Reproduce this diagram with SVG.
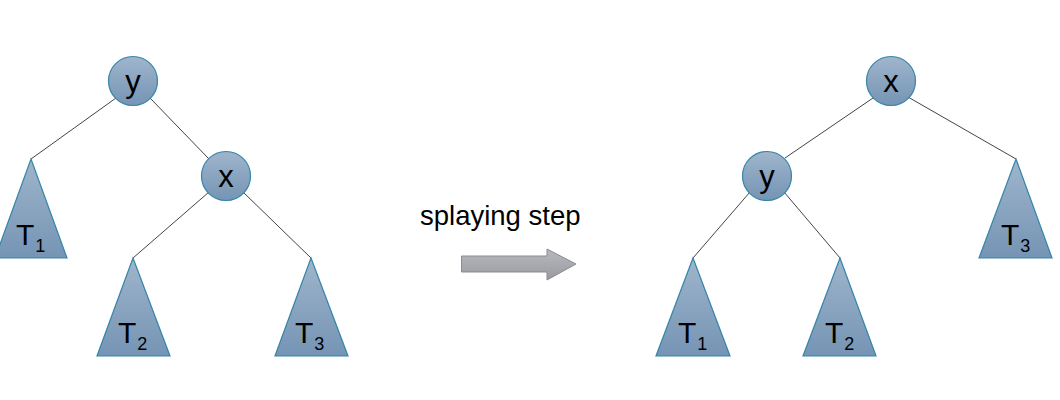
<svg xmlns="http://www.w3.org/2000/svg" width="1060" height="400" viewBox="0 0 1060 400">
<defs>
<linearGradient id="g" x1="0" y1="0" x2="0" y2="1">
<stop offset="0" stop-color="#9fb5cc"/>
<stop offset="1" stop-color="#7594b4"/>
</linearGradient>
<linearGradient id="ga" x1="0" y1="0" x2="0" y2="1">
<stop offset="0" stop-color="#b8b9be"/>
<stop offset="1" stop-color="#9a9ba1"/>
</linearGradient>
</defs>
<style>
.n{fill:url(#g);stroke:#3585a8;stroke-width:1.2}
.e{stroke:#444;stroke-width:1;fill:none}
.t{font-family:"Liberation Sans",Arial,sans-serif;fill:#000}
.c{font-size:31px;text-anchor:middle}
.tl{font-size:30px}
.s{font-size:18px}
</style>
<g id="connectors">
<line class="e" x1="116" y1="98" x2="31" y2="159"/>
<line class="e" x1="150" y1="98" x2="209" y2="159"/>
<line class="e" x1="209" y1="192" x2="133" y2="258"/>
<line class="e" x1="243" y1="192" x2="311" y2="258"/>
<line class="e" x1="873" y1="98" x2="785" y2="158"/>
<line class="e" x1="908" y1="97" x2="1016" y2="159"/>
<line class="e" x1="750" y1="192" x2="693" y2="258"/>
<line class="e" x1="784" y1="192" x2="840" y2="258"/>
</g>
<g id="L_y"><circle class="n" cx="133" cy="81" r="24.5"/><text class="t c" x="133" y="91.5">y</text></g>
<g id="L_x"><circle class="n" cx="226" cy="176" r="24.5"/><text class="t c" x="226" y="186.5">x</text></g>
<g id="L_T1"><polygon class="n" points="31,159 67,258 -5,258"/><text class="t tl" x="16" y="245">T<tspan class="s" dx="1" dy="7">1</tspan></text></g>
<g id="L_T2"><polygon class="n" points="133,258 170,356 97,356"/><text class="t tl" x="118" y="343">T<tspan class="s" dx="1" dy="7">2</tspan></text></g>
<g id="L_T3"><polygon class="n" points="311,258 348,356 275,356"/><text class="t tl" x="295" y="343">T<tspan class="s" dx="1" dy="7">3</tspan></text></g>
<g id="R_x"><circle class="n" cx="891" cy="81" r="24.5"/><text class="t c" x="891" y="91.5">x</text></g>
<g id="R_y"><circle class="n" cx="767" cy="176" r="24.5"/><text class="t c" x="767" y="186.5">y</text></g>
<g id="R_T3"><polygon class="n" points="1016,159 1052,258 979,258"/><text class="t tl" x="1001" y="245">T<tspan class="s" dx="1" dy="7">3</tspan></text></g>
<g id="R_T1"><polygon class="n" points="693,258 730,356 656,356"/><text class="t tl" x="678" y="343">T<tspan class="s" dx="1" dy="7">1</tspan></text></g>
<g id="R_T2"><polygon class="n" points="840,258 876,356 803,356"/><text class="t tl" x="825" y="343">T<tspan class="s" dx="1" dy="7">2</tspan></text></g>
<g id="step">
<text class="t" x="420" y="225" font-size="27.5">splaying step</text>
<polygon points="461.5,256 547,256 547,249 576,264 547,280 547,272 461.5,272" fill="url(#ga)" stroke="#8a8b90" stroke-width="1"/>
</g>
</svg>
